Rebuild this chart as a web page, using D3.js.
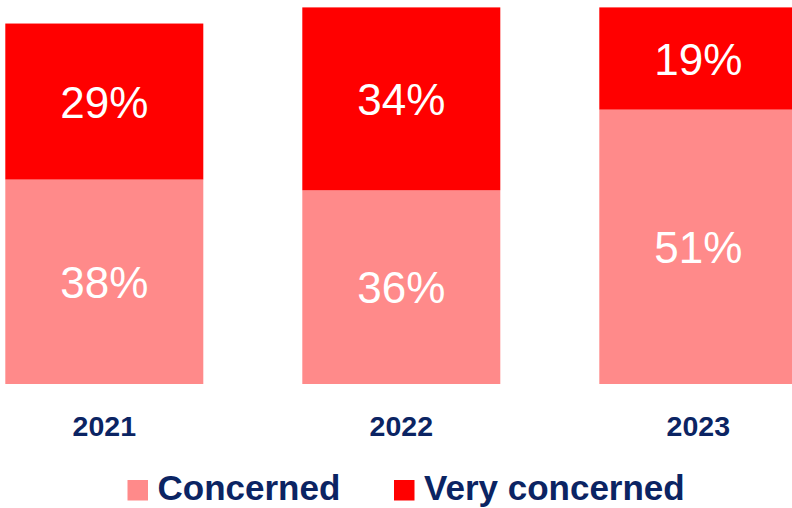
<!DOCTYPE html>
<html>
<head>
<meta charset="utf-8">
<script src="https://cdn.jsdelivr.net/npm/d3@7"></script>
<style>
  html, body { margin: 0; padding: 0; background: #fff; }
  svg { display: block; font-family: "Liberation Sans", Arial, sans-serif; }
</style>
</head>
<body>
<svg id="chart" width="792" height="508"></svg>
<script>
const years = ["2021", "2022", "2023"];
const concerned = [38, 36, 51];
const veryConcerned = [29, 34, 19];
const seriesNames = ["Concerned", "Very concerned"];
const seriesColors = ["#FF8A8A", "#FF0000"];

const W = 792, H = 508;
const svg = d3.select("#chart");
const textColor = "#0b2463";

const x = d3.scaleBand().domain(years).range([5.3, 797.3]).paddingInner(1/3).paddingOuter(0);
const y = d3.scaleLinear().domain([0, 70]).range([384, 7.4]);

const rows = years.map((yr, i) => ({ year: yr, Concerned: concerned[i], "Very concerned": veryConcerned[i] }));
const stack = d3.stack().keys(seriesNames)(rows);

const g = svg.append("g");
stack.forEach((layer, li) => {
  g.selectAll(null).data(layer).enter().append("rect")
    .attr("x", d => x(d.data.year))
    .attr("y", d => y(d[1]))
    .attr("width", x.bandwidth())
    .attr("height", d => y(d[0]) - y(d[1]))
    .attr("fill", seriesColors[li]);
  g.selectAll(null).data(layer).enter().append("text")
    .attr("x", d => x(d.data.year) + x.bandwidth() / 2)
    .attr("y", d => (y(d[0]) + y(d[1])) / 2 + 16)
    .attr("text-anchor", "middle")
    .attr("fill", "#fff")
    .attr("font-size", 44)
    .text(d => (d[1] - d[0]) + "%");
});

const axis = svg.append("g").attr("transform", "translate(0,384)")
  .call(d3.axisBottom(x).tickSize(0).tickPadding(0));
axis.select(".domain").remove();
axis.selectAll("text")
  .attr("y", 51.5).attr("dy", 0)
  .attr("font-size", 28.5).attr("font-weight", "bold")
  .attr("font-family", "'Liberation Sans', Arial, sans-serif")
  .attr("fill", textColor);

const legendX = [127.5, 394];
const lg = svg.append("g");
seriesNames.forEach((name, i) => {
  lg.append("rect").attr("x", legendX[i]).attr("y", 480).attr("width", 20.5).attr("height", 20.5).attr("fill", seriesColors[i]);
  lg.append("text").attr("x", legendX[i] + 30).attr("y", 500.3)
    .attr("font-size", 35).attr("font-weight", "bold").attr("fill", textColor).text(name);
});
</script>
</body>
</html>
